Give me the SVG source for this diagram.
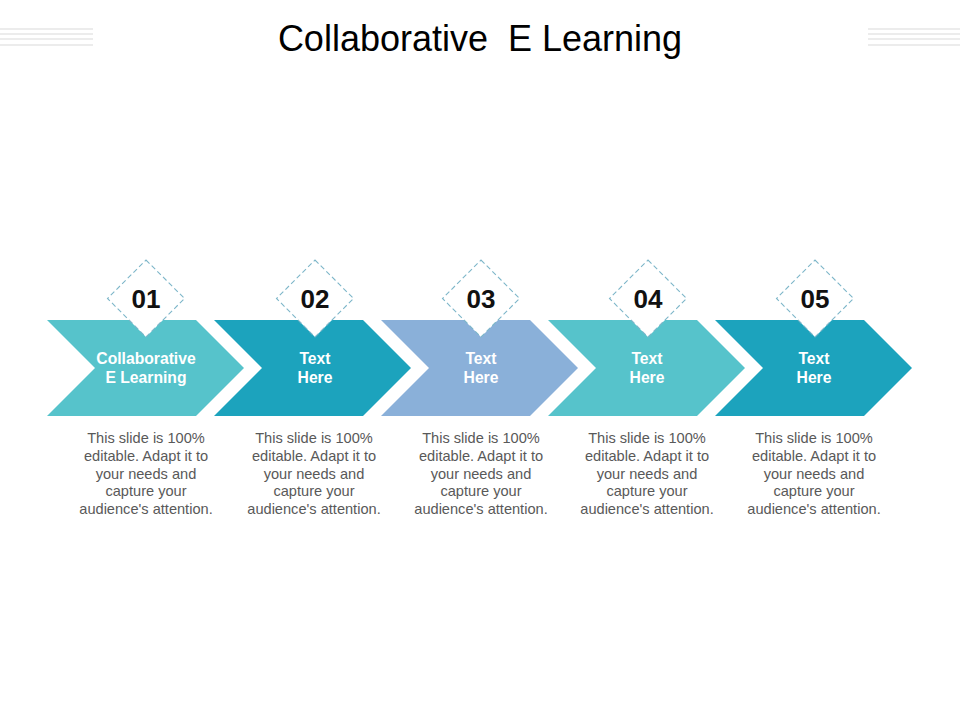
<svg xmlns="http://www.w3.org/2000/svg" width="960" height="720" viewBox="0 0 960 720">
<style>
.title{font-family:"Liberation Sans",Arial,sans-serif;font-size:36px;fill:#000;white-space:pre}
.num{font-family:"Liberation Sans",Arial,sans-serif;font-size:26px;font-weight:bold;fill:#111;text-anchor:middle}
.lbl{font-family:"Liberation Sans",Arial,sans-serif;font-size:15.7px;font-weight:bold;fill:#fff;text-anchor:middle}
.body{font-family:"Liberation Sans",Arial,sans-serif;font-size:14.6px;fill:#595959;text-anchor:middle}
.dia{fill:#fff;stroke:#7db6c9;stroke-width:1.1;stroke-dasharray:5 3}
.deco{stroke:#d9d9d9;stroke-width:1.2}
</style>
<defs>
<polygon id="chev" points="0,320 149,320 197,368 149,416 0,416 48,368"/>
<polygon id="dmd" points="0,-38.5 38.5,0 0,38.5 -38.5,0"/>
</defs>
<rect width="960" height="720" fill="#fff"/>
<g id="deco">
<line class="deco" x1="0" y1="29" x2="93" y2="29"/>
<line class="deco" x1="0" y1="34" x2="93" y2="34"/>
<line class="deco" x1="0" y1="39" x2="93" y2="39"/>
<line class="deco" x1="0" y1="45" x2="93" y2="45"/>
<line class="deco" x1="868" y1="29" x2="960" y2="29"/>
<line class="deco" x1="868" y1="34" x2="960" y2="34"/>
<line class="deco" x1="868" y1="39" x2="960" y2="39"/>
<line class="deco" x1="868" y1="45" x2="960" y2="45"/>
</g>
<text class="title" x="480" y="51" text-anchor="middle">Collaborative  E Learning</text>
<g id="connectors"></g>
<g id="step1">
<use href="#chev" x="47" fill="#56C3CB"/>
<use href="#dmd" x="146" y="298.5" class="dia"/>
<text class="num" x="146" y="308">01</text>
<text class="lbl" x="146" y="364">Collaborative</text>
<text class="lbl" x="146" y="383">E Learning</text>
<text class="body" x="146" y="443">This slide is 100%</text>
<text class="body" x="146" y="461">editable. Adapt it to</text>
<text class="body" x="146" y="479">your needs and</text>
<text class="body" x="146" y="496">capture your</text>
<text class="body" x="146" y="514">audience's attention.</text>
</g>
<g id="step2">
<use href="#chev" x="214" fill="#1CA3BD"/>
<use href="#dmd" x="315" y="298.5" class="dia"/>
<text class="num" x="315" y="308">02</text>
<text class="lbl" x="315" y="364">Text</text>
<text class="lbl" x="315" y="383">Here</text>
<text class="body" x="314" y="443">This slide is 100%</text>
<text class="body" x="314" y="461">editable. Adapt it to</text>
<text class="body" x="314" y="479">your needs and</text>
<text class="body" x="314" y="496">capture your</text>
<text class="body" x="314" y="514">audience's attention.</text>
</g>
<g id="step3">
<use href="#chev" x="381" fill="#8AB0D9"/>
<use href="#dmd" x="481" y="298.5" class="dia"/>
<text class="num" x="481" y="308">03</text>
<text class="lbl" x="481" y="364">Text</text>
<text class="lbl" x="481" y="383">Here</text>
<text class="body" x="481" y="443">This slide is 100%</text>
<text class="body" x="481" y="461">editable. Adapt it to</text>
<text class="body" x="481" y="479">your needs and</text>
<text class="body" x="481" y="496">capture your</text>
<text class="body" x="481" y="514">audience's attention.</text>
</g>
<g id="step4">
<use href="#chev" x="548" fill="#56C3CB"/>
<use href="#dmd" x="648" y="298.5" class="dia"/>
<text class="num" x="648" y="308">04</text>
<text class="lbl" x="647" y="364">Text</text>
<text class="lbl" x="647" y="383">Here</text>
<text class="body" x="647" y="443">This slide is 100%</text>
<text class="body" x="647" y="461">editable. Adapt it to</text>
<text class="body" x="647" y="479">your needs and</text>
<text class="body" x="647" y="496">capture your</text>
<text class="body" x="647" y="514">audience's attention.</text>
</g>
<g id="step5">
<use href="#chev" x="715" fill="#1CA3BD"/>
<use href="#dmd" x="815" y="298.5" class="dia"/>
<text class="num" x="815" y="308">05</text>
<text class="lbl" x="814" y="364">Text</text>
<text class="lbl" x="814" y="383">Here</text>
<text class="body" x="814" y="443">This slide is 100%</text>
<text class="body" x="814" y="461">editable. Adapt it to</text>
<text class="body" x="814" y="479">your needs and</text>
<text class="body" x="814" y="496">capture your</text>
<text class="body" x="814" y="514">audience's attention.</text>
</g>
</svg>
